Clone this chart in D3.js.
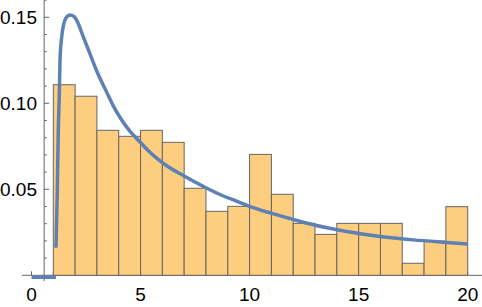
<!DOCTYPE html>
<html>
<head>
<meta charset="utf-8">
<script src="https://cdn.jsdelivr.net/npm/d3@7"></script>
<style>
    html, body { margin: 0; padding: 0; background: #fff; }
    svg { display: block; }
</style>
</head>
<body>
<div id="chart"></div>
<script>
// Histogram bins (left edge of each bin, width 1)
const binStarts = [1, 2, 3, 4, 5, 6, 7, 8, 9, 10, 11, 12, 13, 14, 15, 16, 17, 18, 19]
const binHeights = [0.1108, 0.1041, 0.0843, 0.0808, 0.0843, 0.0773, 0.0506, 0.0372, 0.0401, 0.0703,
    0.0471, 0.0302, 0.0238, 0.0302, 0.0302, 0.0302, 0.0070, 0.0199, 0.0399]
// Density curve
const curveX = [1.123, 1.183, 1.229, 1.275, 1.307, 1.385, 1.467, 1.582, 1.765, 1.949, 2.086, 2.375,
    2.682, 3.0, 3.4, 3.75, 4.15, 4.5, 4.9, 5.3, 5.75, 6.2, 6.96, 7.95, 8.8, 9.4, 10.0,
    10.935, 11.852, 12.921, 14.452, 15.979, 17.506, 19.037, 20]
const curveY = [0.0160, 0.0496, 0.0845, 0.1048, 0.1252, 0.1386, 0.1455, 0.1496, 0.1513, 0.1505, 0.1479, 0.1386,
    0.1287, 0.1185, 0.1077, 0.0985, 0.0900, 0.0840, 0.0785, 0.0732, 0.0680, 0.0637, 0.0580, 0.0512, 0.0461, 0.0431, 0.0401,
    0.0363, 0.0330, 0.0294, 0.0255, 0.0226, 0.0206, 0.0191, 0.0182]
// Zero part of the density below the support
const zeroX = [0, 1.12]
const zeroY = [0, 0]
// Tick values
const xTicks = [0, 5, 10, 15, 20]
const xMinorTicks = d3.range(1, 21).filter(d => d % 5 !== 0)
const yTicks = [0.05, 0.10, 0.15]
const yMinorTicks = [0.01, 0.02, 0.03, 0.04, 0.06, 0.07, 0.08, 0.09, 0.11, 0.12, 0.13, 0.14, 0.16]

const width = 482
const height = 307

// scales
const XScale = d3.scaleLinear().domain([0, 20]).range([31.5, 467.7])
const YScale = d3.scaleLinear().domain([0, 0.15]).range([275.3, 17.3])
const axisX = 0.58 // where the vertical axis crosses

const svg = d3.select("#chart")
    .append("svg")
    .attr("width", width)
    .attr("height", height)

const axisColor = "#666"
const font = "'Liberation Sans', Arial, Helvetica, sans-serif"

// vertical axis
svg.append("line")
    .attr("x1", XScale(axisX)).attr("x2", XScale(axisX))
    .attr("y1", 0).attr("y2", 281)
    .attr("stroke", axisColor).attr("stroke-width", 1)

// horizontal axis
svg.append("line")
    .attr("x1", 22).attr("x2", width)
    .attr("y1", YScale(0)).attr("y2", YScale(0))
    .attr("stroke", axisColor).attr("stroke-width", 1)

// y ticks (point inward)
svg.selectAll(".ytick")
    .data(yTicks)
    .enter().append("line")
    .attr("x1", XScale(axisX)).attr("x2", XScale(axisX) + 5)
    .attr("y1", d => YScale(d)).attr("y2", d => YScale(d))
    .attr("stroke", axisColor)
svg.selectAll(".yminor")
    .data(yMinorTicks)
    .enter().append("line")
    .attr("x1", XScale(axisX)).attr("x2", XScale(axisX) + 2.7)
    .attr("y1", d => YScale(d)).attr("y2", d => YScale(d))
    .attr("stroke", axisColor)

// x ticks (point up)
svg.selectAll(".xtick")
    .data(xTicks)
    .enter().append("line")
    .attr("x1", d => XScale(d)).attr("x2", d => XScale(d))
    .attr("y1", YScale(0)).attr("y2", YScale(0) - 4)
    .attr("stroke", axisColor)
svg.selectAll(".xminor")
    .data(xMinorTicks)
    .enter().append("line")
    .attr("x1", d => XScale(d)).attr("x2", d => XScale(d))
    .attr("y1", YScale(0)).attr("y2", YScale(0) - 2.5)
    .attr("stroke", axisColor)

// tick labels
svg.selectAll(".ylabel")
    .data(yTicks)
    .enter().append("text")
    .attr("x", 37)
    .attr("y", d => YScale(d) + 7)
    .attr("text-anchor", "end")
    .attr("font-family", font)
    .attr("font-size", 19)
    .attr("fill", "#000")
    .text(d => d3.format(".2f")(d))

svg.selectAll(".xlabel")
    .data(xTicks)
    .enter().append("text")
    .attr("x", d => XScale(d))
    .attr("y", 300.7)
    .attr("text-anchor", "middle")
    .attr("font-family", font)
    .attr("font-size", 19)
    .attr("fill", "#000")
    .text(d => d)

// histogram bars
const bars = binStarts.map((s, i) => ({ x0: s, x1: s + 1, h: binHeights[i] }))
svg.append("g")
    .selectAll("rect")
    .data(bars)
    .enter().append("rect")
    .attr("x", d => XScale(d.x0))
    .attr("y", d => YScale(d.h))
    .attr("width", d => XScale(d.x1) - XScale(d.x0))
    .attr("height", d => YScale(0) - YScale(d.h))
    .attr("fill", "#FDCE7F")
    .attr("stroke", "#666")
    .attr("stroke-width", 1)

// density curve
const Line = d3.line()
    .x(d => XScale(d[0]))
    .y(d => YScale(d[1]))

svg.append("path")
    .attr("d", Line(zeroX.map((x, i) => [x, zeroY[i]])))
    .attr("transform", "translate(0,2)")
    .attr("fill", "none")
    .attr("stroke", "#5E81B5")
    .attr("stroke-width", 3.5)

svg.append("path")
    .attr("d", Line.curve(d3.curveMonotoneX)(curveX.map((x, i) => [x, curveY[i]])))
    .attr("fill", "none")
    .attr("stroke", "#5E81B5")
    .attr("stroke-width", 3.5)
</script>
</body>
</html>
